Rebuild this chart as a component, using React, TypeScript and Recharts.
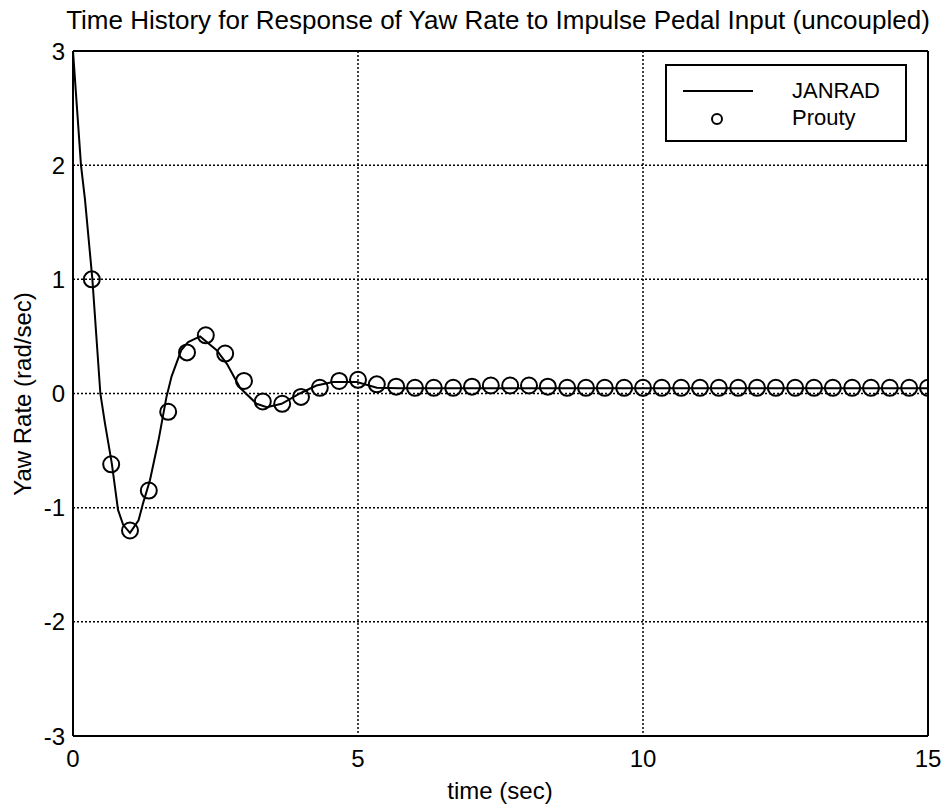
import React from "react";
import {
  ComposedChart,
  Line,
  Scatter,
  XAxis,
  YAxis,
  CartesianGrid,
  ReferenceLine,
  Legend,
} from "recharts";

// JANRAD simulated response
const janradTime = [
  0, 0.07, 0.14, 0.21, 0.34, 0.48, 0.56, 0.68, 0.79, 0.88, 1.0, 1.15, 1.23,
  1.35, 1.5, 1.64, 1.73, 1.9, 2.02, 2.23, 2.52, 2.7, 2.93, 3.22, 3.4, 3.66,
  3.98, 4.27, 4.56, 4.98, 5.33, 5.74, 6.5, 7.5, 8.5, 9.5, 10.5, 11.5, 12.5,
  13.5, 15,
];
const janradRate = [
  3, 2.5, 2.0, 1.7, 1.0, 0.0, -0.26, -0.61, -1.02, -1.15, -1.22, -1.11, -0.96,
  -0.76, -0.41, -0.03, 0.15, 0.38, 0.45, 0.5, 0.38, 0.26, 0.05, -0.09, -0.12,
  -0.09, 0.0, 0.07, 0.1, 0.1, 0.05, 0.045, 0.045, 0.045, 0.045, 0.045, 0.045,
  0.045, 0.045, 0.045, 0.045,
];

// Prouty reference points
const proutyTime = [
  0.33, 0.67, 1, 1.33, 1.67, 2, 2.33, 2.67, 3, 3.33, 3.67, 4, 4.33, 4.67, 5,
  5.33, 5.67, 6, 6.33, 6.67, 7, 7.33, 7.67, 8, 8.33, 8.67, 9, 9.33, 9.67, 10,
  10.33, 10.67, 11, 11.33, 11.67, 12, 12.33, 12.67, 13, 13.33, 13.67, 14,
  14.33, 14.67, 15,
];
const proutyRate = [
  1.0, -0.62, -1.2, -0.85, -0.16, 0.36, 0.51, 0.35, 0.11, -0.07, -0.09, -0.03,
  0.05, 0.11, 0.12, 0.08, 0.06, 0.05, 0.05, 0.05, 0.06, 0.07, 0.07, 0.07, 0.06,
  0.05, 0.05, 0.05, 0.05, 0.05, 0.05, 0.05, 0.05, 0.05, 0.05, 0.05, 0.05, 0.05,
  0.05, 0.05, 0.05, 0.05, 0.05, 0.05, 0.05,
];

const xTicks = [0, 5, 10, 15];
const yTicks = [-3, -2, -1, 0, 1, 2, 3];

const janradData = janradTime.map((t, i) => ({ t, y: janradRate[i] }));
const proutyData = proutyTime.map((t, i) => ({ t, y: proutyRate[i] }));

const FONT = "'Liberation Sans', Arial, Helvetica, sans-serif";
const FS = 24;

const OpenCircle = (props: any) => (
  <circle cx={props.cx} cy={props.cy} r={8} fill="none" stroke="#000" strokeWidth={2} />
);

const LegendBox = () => (
  <svg width={242} height={78} style={{ display: "block" }}>
    <rect x={1} y={1} width={240} height={76} fill="#fff" stroke="#000" strokeWidth={2} />
    <line x1={18} y1={27} x2={88} y2={27} stroke="#000" strokeWidth={2} />
    <circle cx={52} cy={55} r={5} fill="none" stroke="#000" strokeWidth={2} />
    <text x={127} y={26} dominantBaseline="central" fontSize={22} fontFamily={FONT} fill="#000">
      JANRAD
    </text>
    <text x={127} y={53} dominantBaseline="central" fontSize={22} fontFamily={FONT} fill="#000">
      Prouty
    </text>
  </svg>
);

export default function App() {
  return (
    <div style={{ position: "absolute", left: 0, top: 0, width: 947, height: 807, background: "#fff" }}>
      <div
        style={{
          position: "absolute",
          left: 0,
          width: 996,
          top: 5,
          textAlign: "center",
          fontFamily: FONT,
          fontSize: 26,
          lineHeight: "30px",
          color: "#000",
          whiteSpace: "nowrap",
        }}
      >
        Time History for Response of Yaw Rate to Impulse Pedal Input (uncoupled)
      </div>
      <ComposedChart
        width={947}
        height={807}
        margin={{ top: 51, right: 19, bottom: 0, left: 0 }}
        style={{ fontFamily: FONT }}
      >
        <CartesianGrid stroke="#000" strokeWidth={1.5} strokeDasharray="2 2" />
        <XAxis
          dataKey="t"
          type="number"
          domain={[0, 15]}
          ticks={xTicks}
          height={71}
          tickLine={false}
          tickMargin={8}
          axisLine={{ stroke: "#000", strokeWidth: 2 }}
          tick={{ fill: "#000", fontSize: FS }}
          allowDataOverflow
          label={{
            content: () => (
              <text x={500} y={790} textAnchor="middle" dominantBaseline="central" fontSize={FS} fontFamily={FONT} fill="#000">
                time (sec)
              </text>
            ),
          }}
        />
        <YAxis
          dataKey="y"
          type="number"
          domain={[-3, 3]}
          ticks={yTicks}
          width={73}
          tickLine={false}
          axisLine={{ stroke: "#000", strokeWidth: 2 }}
          tick={{ fill: "#000", fontSize: FS }}
          allowDataOverflow
          label={{
            content: () => (
              <text
                x={22}
                y={394}
                transform="rotate(-90 22 394)"
                textAnchor="middle"
                dominantBaseline="central"
                fontSize={FS}
                fontFamily={FONT}
                fill="#000"
              >
                Yaw Rate (rad/sec)
              </text>
            ),
          }}
        />
        <ReferenceLine y={3} stroke="#000" strokeWidth={2} />
        <ReferenceLine x={15} stroke="#000" strokeWidth={2} />
        <Line
          data={janradData}
          dataKey="y"
          name="JANRAD"
          type="linear"
          stroke="#000"
          strokeWidth={2}
          dot={false}
          isAnimationActive={false}
        />
        <Scatter
          data={proutyData}
          dataKey="y"
          name="Prouty"
          shape={OpenCircle}
          isAnimationActive={false}
        />
        <Legend
          layout="vertical"
          align="center"
          verticalAlign="middle"
          content={() => <LegendBox />}
          wrapperStyle={{ position: "absolute", left: 665, top: 64, width: 242, height: 78 }}
        />
      </ComposedChart>
    </div>
  );
}
